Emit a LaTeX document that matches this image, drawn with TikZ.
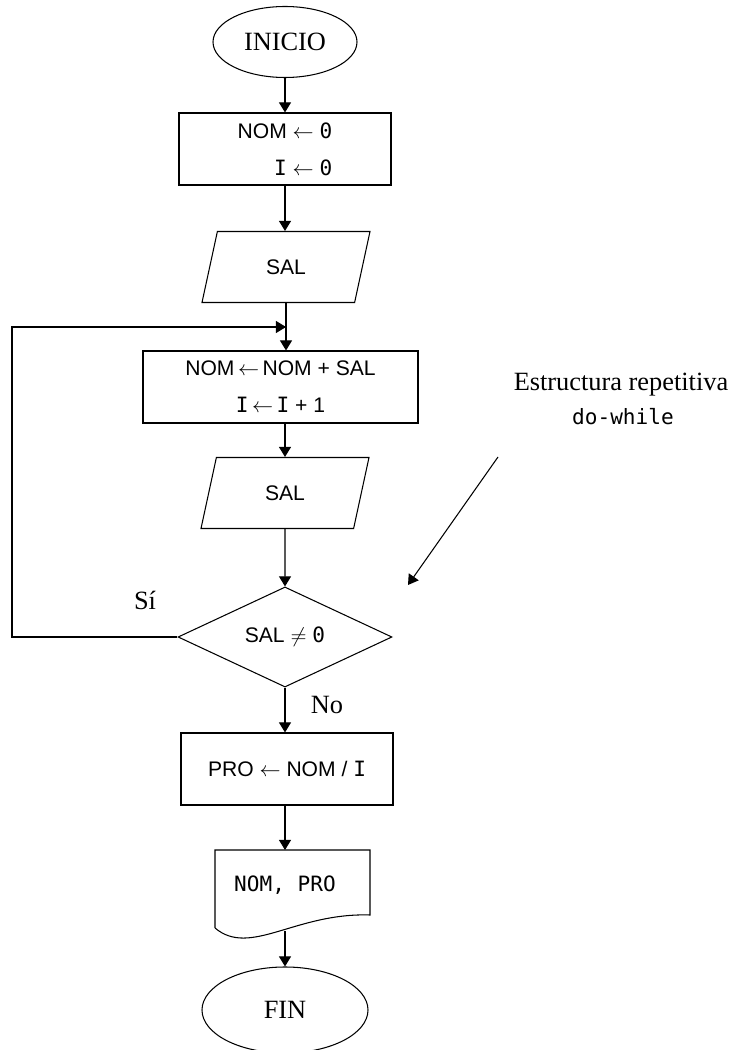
\documentclass[tikz,border=0pt]{standalone}
\usepackage{fontspec}
\setmainfont{Liberation Serif}
\setsansfont{Liberation Sans}
\setmonofont{DejaVu Sans Mono}
\usetikzlibrary{shapes.geometric,arrows.meta}
\tikzset{
  term/.style={draw,ellipse,minimum width=2.88cm,minimum height=1.42cm,font=\fontsize{15}{18}\selectfont},
  proc/.style={draw,rectangle,minimum width=4.24cm,minimum height=1.44cm,font=\sffamily\fontsize{12}{21}\selectfont},
  io/.style={draw,trapezium,trapezium left angle=60,trapezium right angle=120,trapezium stretches body,minimum width=3.36cm,minimum height=1.42cm,font=\sffamily\fontsize{12}{14}\selectfont},
  cond/.style={draw,diamond,minimum width=4.28cm,minimum height=1.9cm,inner sep=0pt,font=\sffamily\fontsize{12}{14}\selectfont},
  flow/.style={-{Triangle[length=5.7pt,width=6.8pt]},line width=.6pt},
  lbl/.style={font=\fontsize{15}{18}\selectfont}
}
\begin{document}
\begin{tikzpicture}[line width=.6pt]
\useasboundingbox (0,0) rectangle (14.7,21);
\node[term] (inicio) at (5.7,20.16) {INICIO};
\node[proc,align=right] (b1) at (5.7,18.02) {NOM $\leftarrow$ \texttt{0}\\\texttt{I} $\leftarrow$ \texttt{0}};
\node[io] (sal1) at (5.72,15.66) {SAL};
\node[proc,minimum width=5.5cm,align=center] (b2) at (5.61,13.26) {NOM\,$\leftarrow$\,NOM + SAL\\\texttt{I}\,$\leftarrow$\,\texttt{I} + 1};
\node[io] (sal2) at (5.7,11.14) {SAL};
\node[cond] (dec) at (5.7,8.26) {SAL $\neq$ \texttt{0}};
\node[proc] (pro) at (5.74,5.62) {PRO $\leftarrow$ NOM / \texttt{I}};
\node[font=\ttfamily\fontsize{12}{14}\selectfont] (doc) at (5.7,3.3) {NOM, PRO};
\node[term,minimum width=3.32cm,minimum height=1.72cm] (fin) at (5.7,0.8) {FIN};
\coordinate (doctop) at (5.7,4.0);
\coordinate (docb) at (5.7,2.38);
\coordinate (lp) at (0.24,14.46);
% documento
\draw (4.3,2.44) -- (4.3,4.0) -- (7.4,4.0) -- (7.4,2.7)
  .. controls (5.9,2.75) and (5.0,1.85) .. (4.3,2.44);
% flechas
\draw[flow] (inicio) -- (inicio |- b1.north);
\draw[flow] (b1) -- (sal1.north -| b1);
\draw[flow] (sal1.south) -- (sal1.south |- b2.north);
\draw[flow] (b2.south -| sal2.north) -- (sal2.north);
\draw[flow] (sal2) -- (dec);
\draw[flow] (dec.west) -| (lp) -- (lp -| sal1.south);
\draw[flow] (dec) -- (pro.north -| dec);
\draw[flow] (pro.south -| doctop) -- (doctop);
\draw[flow] (docb) -- (fin);
\node[lbl] (si) at (2.9,9.0) {Sí};
\node[lbl] (no) at (6.54,6.9) {No};
\node[lbl] (estr) at (12.42,13.3) {Estructura repetitiva};
\node[font=\ttfamily\fontsize{12}{14}\selectfont] (dw) at (12.46,12.66) {do-while};
\coordinate (ann) at (9.96,11.86);
\draw[flow] (ann) -- (8.16,9.3);
\end{tikzpicture}
\end{document}
